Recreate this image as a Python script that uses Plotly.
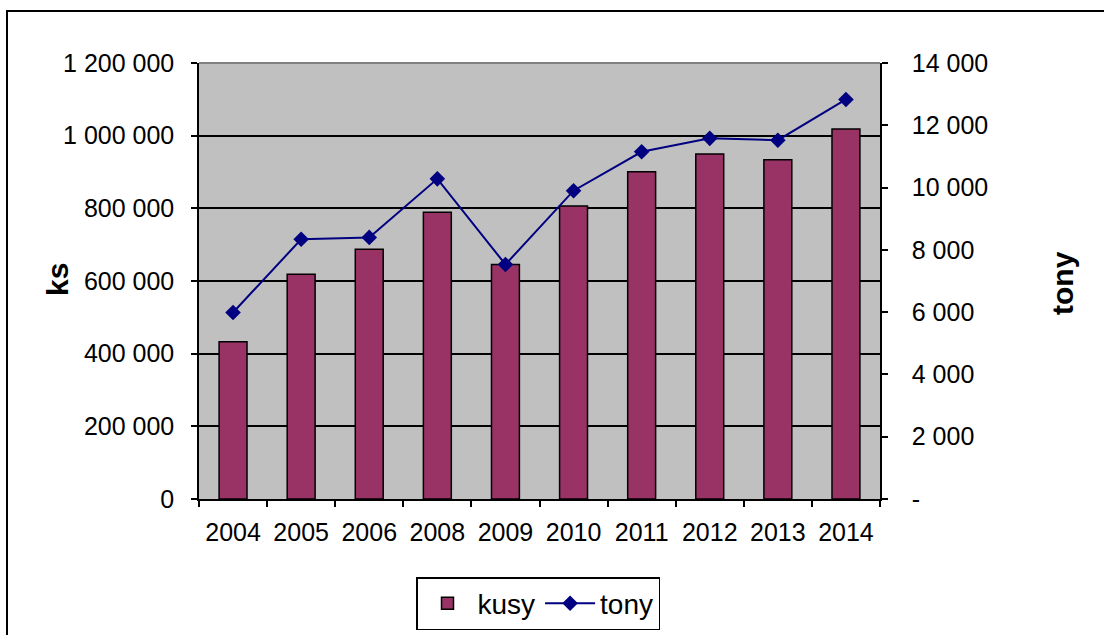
import plotly.graph_objects as go

years = ["2004", "2005", "2006", "2008", "2009", "2010", "2011", "2012", "2013", "2014"]
kusy = [432600, 618800, 687600, 789000, 645500, 806700, 901000, 949700, 934000, 1018500]
tony = [5990, 8340, 8400, 10280, 7530, 9900, 11150, 11580, 11520, 12830]

left_vals = [0, 200000, 400000, 600000, 800000, 1000000, 1200000]
left_text = ["0", "200 000", "400 000", "600 000", "800 000", "1 000 000", "1 200 000"]
right_vals = [0, 2000, 4000, 6000, 8000, 10000, 12000, 14000]
right_text = ["-", "2 000", "4 000", "6 000", "8 000", "10 000", "12 000", "14 000"]

FONT = "Liberation Sans, Arial, sans-serif"

fig = go.Figure()
fig.add_trace(go.Bar(
    x=years, y=kusy, name="kusy",
    marker=dict(color="#993366", line=dict(color="black", width=1.5)),
))
fig.add_trace(go.Scatter(
    x=years, y=tony, name="tony", yaxis="y2", mode="lines+markers",
    line=dict(color="#000080", width=2),
    marker=dict(symbol="diamond", size=12, color="#000080"),
))

W, H = 1104, 635
L, R, T, B = 199, 224, 63, 136
pw, ph = W - L - R, H - T - B

def px(x):
    return (x - L) / pw

def py(y):
    return (H - B - y) / ph

fig.update_layout(
    width=W, height=H,
    margin=dict(l=L, r=R, t=T, b=B, autoexpand=False),
    paper_bgcolor="white",
    plot_bgcolor="#C0C0C0",
    font=dict(family=FONT, size=25, color="black"),
    bargap=0.59,
    showlegend=True,
    legend=dict(
        orientation="h", x=px(538), xanchor="center", y=py(577), yanchor="top",
        bordercolor="black", borderwidth=1.5, font=dict(size=28),
        bgcolor="white", itemwidth=50,
    ),
    xaxis=dict(
        type="category", range=[-0.5, len(years) - 0.5], automargin=False,
        showgrid=False, showline=True, linecolor="black", linewidth=1.5,
        ticks="outside", tickson="boundaries", ticklen=6, tickcolor="black", tickwidth=1.5,
        ticklabelstandoff=10, zeroline=False,
    ),
    yaxis=dict(
        range=[0, 1200000], tickvals=left_vals, ticktext=left_text, automargin=False,
        showgrid=True, gridcolor="black", gridwidth=1.5,
        showline=True, linecolor="black", linewidth=1.5,
        ticks="outside", ticklen=6, tickcolor="black", tickwidth=1.5,
        ticklabelstandoff=12, zeroline=False,
    ),
    yaxis2=dict(
        range=[0, 14000], tickvals=right_vals, ticktext=right_text, automargin=False,
        overlaying="y", side="right", showgrid=False,
        showline=True, linecolor="black", linewidth=1.5,
        ticks="outside", ticklen=6, tickcolor="black", tickwidth=1.5,
        ticklabelstandoff=19, zeroline=False,
    ),
    shapes=[
        dict(type="line", xref="paper", yref="paper", x0=0, x1=1, y0=1, y1=1,
             line=dict(color="#808080", width=2)),
        dict(type="rect", xref="paper", yref="paper",
             x0=px(7), x1=px(1110), y0=py(645), y1=py(11),
             line=dict(color="black", width=2), fillcolor="rgba(0,0,0,0)", layer="below"),
    ],
    annotations=[
        dict(text="<b>ks</b>", xref="paper", yref="paper", x=px(57), y=py(280),
             showarrow=False, textangle=-90, font=dict(size=30), xanchor="center", yanchor="middle"),
        dict(text="<b>tony</b>", xref="paper", yref="paper", x=px(1062), y=py(283),
             showarrow=False, textangle=-90, font=dict(size=30), xanchor="center", yanchor="middle"),
    ],
)

fig.write_html(
    "out.html",
    config={"displayModeBar": False},
    post_script="document.body.style.margin='0px';document.body.style.overflow='hidden';",
)
